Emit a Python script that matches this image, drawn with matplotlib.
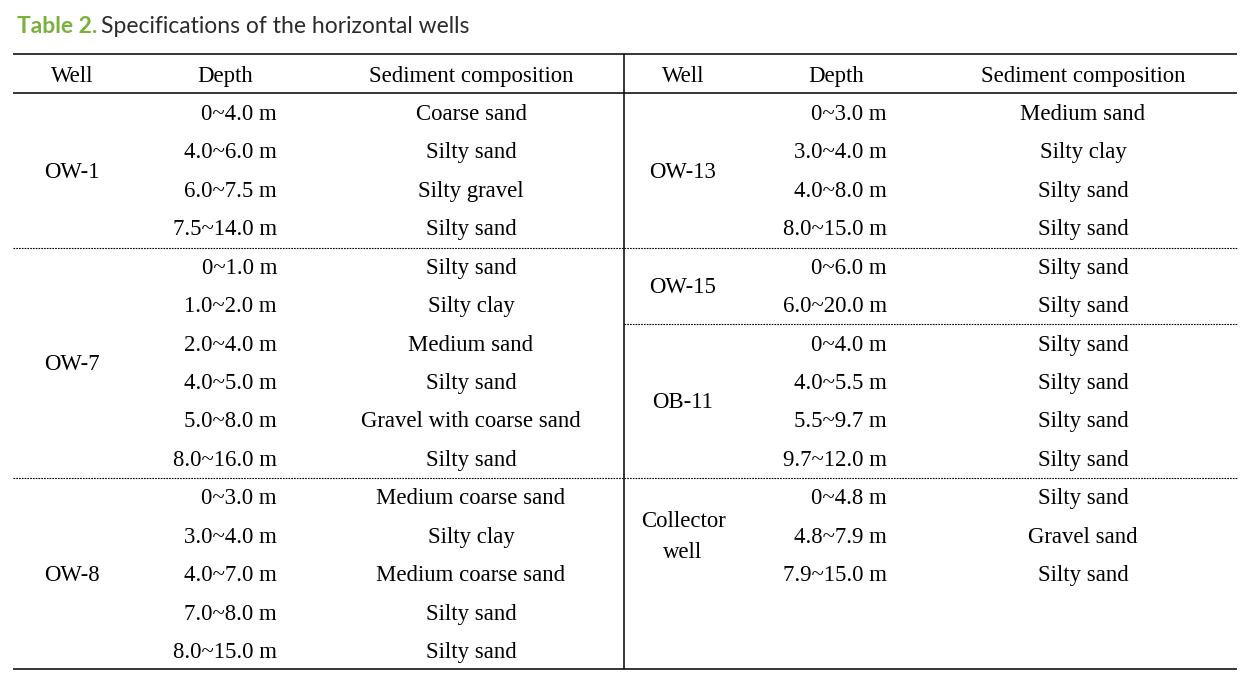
import matplotlib
matplotlib.use("Agg")
import matplotlib.pyplot as plt

# table contents
headers = ["Well", "Depth", "Sediment composition"]

left_wells = ["OW-1", "OW-7", "OW-8"]
left_depths = [
    ["0~4.0 m", "4.0~6.0 m", "6.0~7.5 m", "7.5~14.0 m"],
    ["0~1.0 m", "1.0~2.0 m", "2.0~4.0 m", "4.0~5.0 m", "5.0~8.0 m", "8.0~16.0 m"],
    ["0~3.0 m", "3.0~4.0 m", "4.0~7.0 m", "7.0~8.0 m", "8.0~15.0 m"],
]
left_sediments = [
    ["Coarse sand", "Silty sand", "Silty gravel", "Silty sand"],
    ["Silty sand", "Silty clay", "Medium sand", "Silty sand", "Gravel with coarse sand", "Silty sand"],
    ["Medium coarse sand", "Silty clay", "Medium coarse sand", "Silty sand", "Silty sand"],
]

right_wells = ["OW-13", "OW-15", "OB-11", "Collector\nwell"]
right_depths = [
    ["0~3.0 m", "3.0~4.0 m", "4.0~8.0 m", "8.0~15.0 m"],
    ["0~6.0 m", "6.0~20.0 m"],
    ["0~4.0 m", "4.0~5.5 m", "5.5~9.7 m", "9.7~12.0 m"],
    ["0~4.8 m", "4.8~7.9 m", "7.9~15.0 m"],
]
right_sediments = [
    ["Medium sand", "Silty clay", "Silty sand", "Silty sand"],
    ["Silty sand", "Silty sand"],
    ["Silty sand", "Silty sand", "Silty sand", "Silty sand"],
    ["Silty sand", "Gravel sand", "Silty sand"],
]

W, H = 1251, 678
fig = plt.figure(figsize=(W / 100, H / 100), dpi=100)
ax = fig.add_axes([0, 0, 1, 1])
ax.set_xlim(0, W)
ax.set_ylim(H, 0)
ax.axis("off")

serif = "Liberation Serif"
fs = 16.4

# layout
x0, x1, xmid = 13, 1237, 624
y_top, y_head_line, y_bottom = 54, 93, 669
y_head = 75
row0, dy = 113, 38.43
base_off = 7

ax.plot([x0, x1], [y_top, y_top], color="black", lw=1.1, solid_capstyle="butt")
ax.plot([x0, x1], [y_head_line, y_head_line], color="black", lw=1.1, solid_capstyle="butt")
ax.plot([x0, x1], [y_bottom, y_bottom], color="black", lw=1.1, solid_capstyle="butt")
ax.plot([xmid, xmid], [y_top, y_bottom], color="black", lw=1.1, solid_capstyle="butt")


def draw_half(wells, depths, seds, xw, xd, xs, xa, xb, total_rows):
    r = 0
    for g, well in enumerate(wells):
        n = len(depths[g])
        yc = row0 + (r + (n - 1) / 2) * dy
        if "\n" in well:
            parts = well.split("\n")
            for k, p in enumerate(parts):
                yy = yc + (k - (len(parts) - 1) / 2) * 31
                ax.text(xw, yy + base_off, p, ha="center", va="baseline",
                        fontsize=fs, family=serif)
        else:
            ax.text(xw, yc + base_off, well, ha="center", va="baseline",
                    fontsize=fs, family=serif)
        for i in range(n):
            y = row0 + (r + i) * dy + base_off
            ax.text(xd, y, depths[g][i], ha="right", va="baseline",
                    fontsize=fs, family=serif)
            ax.text(xs, y, seds[g][i], ha="center", va="baseline",
                    fontsize=fs, family=serif)
        r += n
        if g < len(wells) - 1 and r < total_rows:
            yl = row0 + (r - 0.5) * dy
            ax.plot([xa, xb], [yl, yl], color="black", lw=0.8,
                    linestyle=(0, (1.5, 1.0)))


for hx, h in zip([72, 225, 471], headers):
    ax.text(hx, y_head + base_off, h, ha="center", va="baseline", fontsize=fs, family=serif)
for hx, h in zip([683, 836, 1083], headers):
    ax.text(hx, y_head + base_off, h, ha="center", va="baseline", fontsize=fs, family=serif)

draw_half(left_wells, left_depths, left_sediments, 72, 277, 471, x0, xmid, 15)
draw_half(right_wells, right_depths, right_sediments, 683, 887, 1083, xmid, x1, 15)

# title
t1 = ax.text(17, 33, "Table 2.", ha="left", va="baseline", fontsize=16.5,
             family="Lato", fontweight="bold", color="#7ab03c")
fig.canvas.draw()
bb = t1.get_window_extent(renderer=fig.canvas.get_renderer())
ax.text(bb.x1 + 4, 33, "Specifications of the horizontal wells", ha="left",
        va="baseline", fontsize=16.5, family="Lato", color="#2b2b2b")

fig.savefig("out.png", dpi=100)
